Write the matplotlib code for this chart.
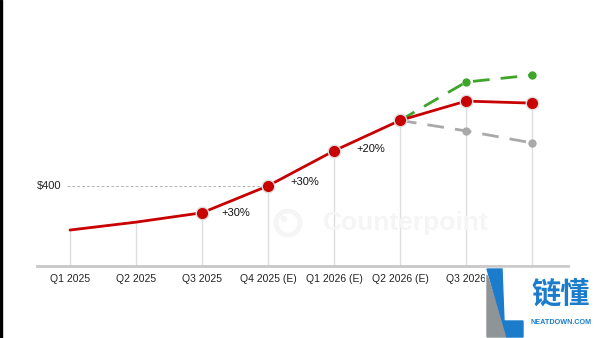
import matplotlib
matplotlib.use("Agg")
import matplotlib.pyplot as plt
from matplotlib.patches import Polygon, Circle, Rectangle

plt.rcParams['font.family'] = ['Liberation Sans', 'DejaVu Sans']

categories = ["Q1 2025", "Q2 2025", "Q3 2025", "Q4 2025 (E)", "Q1 2026 (E)",
              "Q2 2026 (E)", "Q3 2026", "Q4 2026 (E)"]
base_values = [249, 276, 308, 400, 520, 624, 690, 683]
bull_values = [624, 755, 779]
bear_values = [624, 588, 547]
growth_labels = {2: "+30%", 3: "+30%", 4: "+20%"}
ref_value = 400

W, H = 600, 338
fig = plt.figure(figsize=(W / 100, H / 100), dpi=100)
fig.patch.set_facecolor("white")

def fx(px):
    return px / W

def fy(py):
    return 1 - py / H

ax_left, ax_right, ax_bottom, ax_top = 37, 568, 266, 20
ax = fig.add_axes([fx(ax_left), fy(ax_bottom), fx(ax_right - ax_left), (ax_bottom - ax_top) / H])
ax.set_xlim(-0.5, 7.545)
ax.set_ylim(126, 126 + 3.42 * (ax_bottom - ax_top))
for s in ["top", "right", "left"]:
    ax.spines[s].set_visible(False)
ax.spines["bottom"].set_color("#c8c8c8")
ax.spines["bottom"].set_linewidth(2)
ax.set_yticks([])
x = list(range(len(categories)))
ax.set_xticks(x)
ax.set_xticklabels(categories, fontsize=7.5, color="#222222")
ax.tick_params(axis="x", length=0, pad=6)
# last label is covered by the logo in the reference
ax.get_xticklabels()[-1].set_visible(False)

# watermark
fig.text(fx(406), fy(223), "Counterpoint", fontsize=19, fontweight="bold",
         color="#f5f5f5", ha="center", va="center", zorder=0)
ring = Circle((288, H - 223), 12, transform=None, fill=False, ec="#f5f5f5", lw=3.5, zorder=0)
dot = Circle((284, H - 219), 2.5, transform=None, color="#f5f5f5", zorder=0)
fig.patches.extend([ring, dot])

# drop lines
ymin = ax.get_ylim()[0]
ax.vlines(x, ymin, base_values, colors="#dedede", lw=1, zorder=1)

# reference line
ax.plot([-0.04, 3], [ref_value, ref_value], ls=(0, (3, 2)), color="#b5b5b5", lw=0.7, zorder=1)
ax.text(-0.13, ref_value, "$" + str(ref_value), fontsize=8, ha="right", va="center", color="#222222")

# scenario lines
ax.plot(x[5:], bull_values, color="#3ea52a", lw=2, ls=(0, (6, 4)), zorder=2)
ax.plot(x[6:], bull_values[1:], "o", color="#3ea52a", ms=5, zorder=3)
ax.plot(x[5:], bear_values, color="#a9a9a9", lw=2, ls=(0, (6, 4)), zorder=2)
ax.plot(x[6:], bear_values[1:], "o", color="#a9a9a9", ms=5, zorder=3)

# base line
ax.plot(x, base_values, color="#c90000", lw=2, zorder=4, solid_capstyle="round")
ax.plot(x[2:], base_values[2:], "o", color="#c90000", ms=9, mec="#dddddd", mew=1, zorder=5)

offsets = {2: (14, 0), 3: (16, 3), 4: (16, 1)}
for i, lab in growth_labels.items():
    ax.annotate(lab, (x[i], base_values[i]), xytext=offsets[i], textcoords="offset points",
                fontsize=8, ha="left", va="center", color="#111111")

# left border strip
fig.patches.append(Rectangle((0, 0), fx(2), 1, transform=fig.transFigure,
                             color="black", zorder=10))

# logo
grey = Polygon([(fx(487), fy(275)), (fx(507), fy(337)), (fx(487), fy(337))],
               closed=True, transform=fig.transFigure, color="#8f9496", zorder=10)
blue = Polygon([(fx(487), fy(269)), (fx(502), fy(269)), (fx(504), fy(321)), (fx(523), fy(321)),
                (fx(523), fy(337)), (fx(507), fy(337))],
               closed=True, transform=fig.transFigure, color="#1c7ccc", zorder=11)
bg = Rectangle((fx(485), 0), fx(115), fy(266) - 0.006, transform=fig.transFigure,
               color="white", zorder=9)
fig.patches.extend([bg, grey, blue])
fig.text(fx(561), fy(294), "链懂", fontsize=21, color="#1c7ccc", ha="center", va="center",
         family=["Noto Sans CJK SC", "DejaVu Sans"], fontweight="bold", zorder=12)
fig.text(fx(561), fy(322), "NEATDOWN.COM", fontsize=5.2, color="#1c7ccc", ha="center",
         va="center", fontweight="bold", zorder=12)

fig.savefig("out.png", dpi=100)
